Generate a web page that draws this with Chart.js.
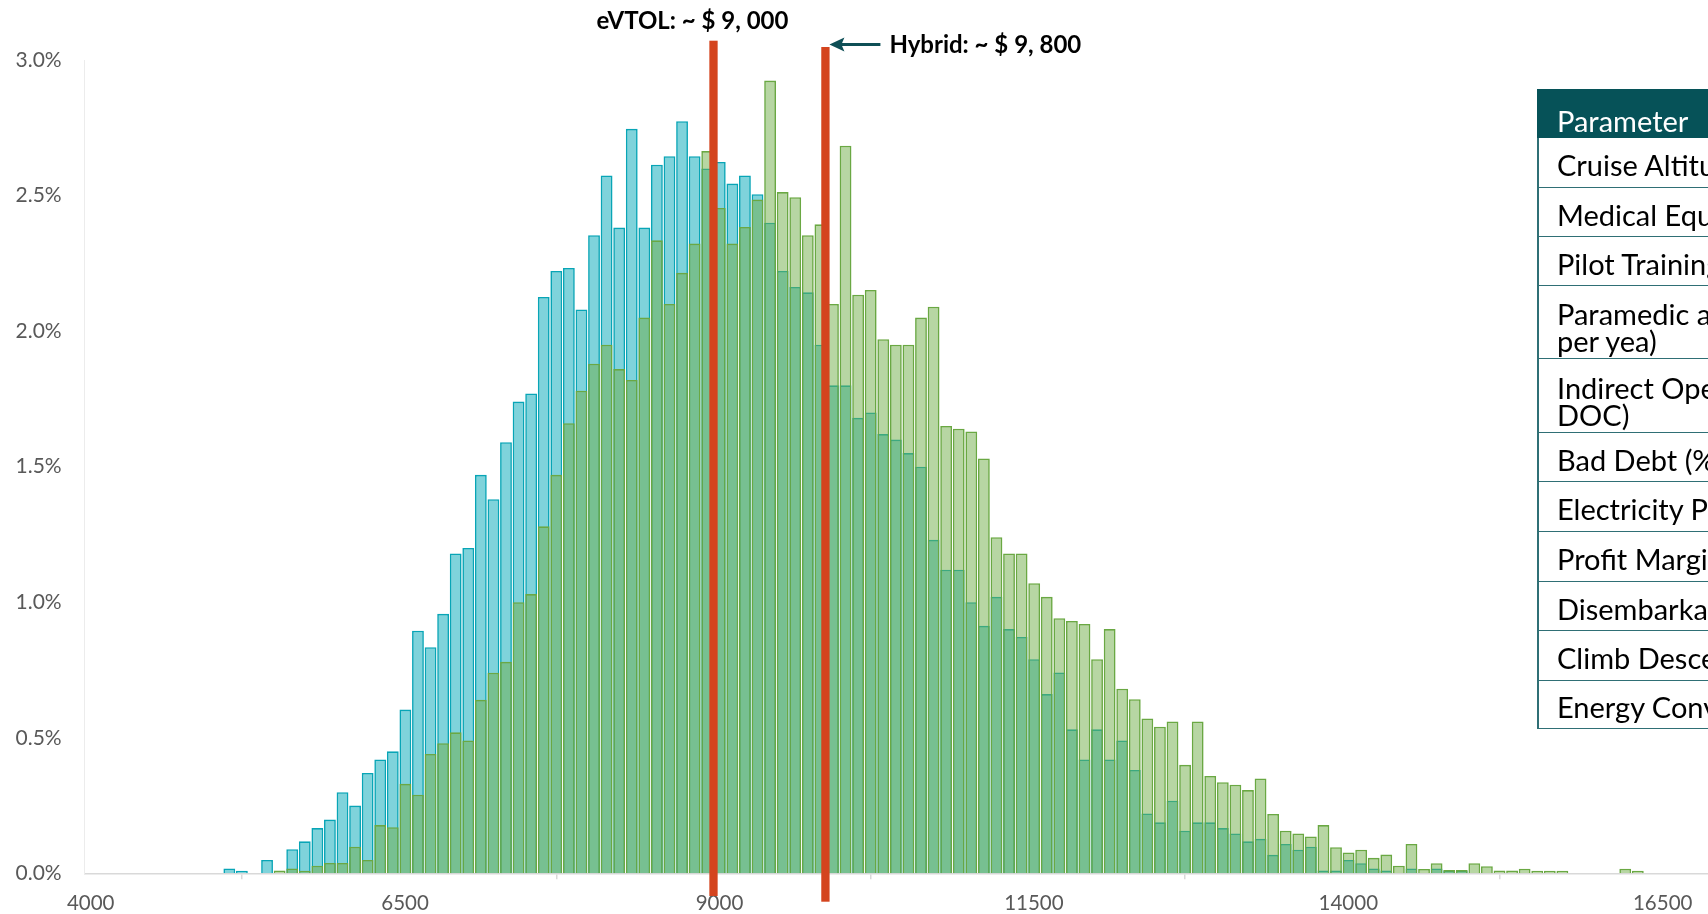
<!DOCTYPE html>
<html>
<head>
<meta charset="utf-8">
<script src="https://cdn.jsdelivr.net/npm/chart.js@4.4.1/dist/chart.umd.min.js"></script>
<style>
  html, body { margin: 0; padding: 0; background: #ffffff; overflow: hidden; width: 1708px; height: 914px; }
  #wrap { position: absolute; left: 0; top: 0; width: 1708px; height: 914px; }
  #tbl { position: absolute; left: 1537px; top: 89px; width: 560px; font-family: Lato, "Open Sans", sans-serif; font-size: 29px; color: #000; }
  #tbl .hdr { height: 49px; box-sizing: border-box; background: #065258; color: #fff; padding: 18px 0 0 20px; line-height: 27px; white-space: nowrap; }
  #tbl .row { box-sizing: border-box; border-left: 2px solid #2f6f75; border-bottom: 1.5px solid #2f6f75; padding-left: 18px; padding-top: 4px; display: flex; flex-direction: column; justify-content: center; line-height: 27px; white-space: nowrap; }
  #tbl .row.dbl { padding-top: 10px; }
</style>
</head>
<body>
<div id="wrap"><canvas id="c"></canvas></div>
<div id="tbl"></div>
<script>
// ---------- DATA ----------
const binCenters = [5150,5250,5350,5450,5550,5650,5750,5850,5950,6050,6150,6250,6350,6450,6550,6650,6750,6850,6950,7050,
  7150,7250,7350,7450,7550,7650,7750,7850,7950,8050,8150,8250,8350,8450,8550,8650,8750,8850,8950,9050,
  9150,9250,9350,9450,9550,9650,9750,9850,9950,10050,10150,10250,10350,10450,10550,10650,10750,10850,10950,11050,
  11150,11250,11350,11450,11550,11650,11750,11850,11950,12050,12150,12250,12350,12450,12550,12650,12750,12850,12950,13050,
  13150,13250,13350,13450,13550,13650,13750,13850,13950,14050,14150,14250,14350,14450,14550,14650,14750,14850,14950,15050,
  15150,15250,15350,15450,15550,15650,15750,15850,15950,16050,16150,16250,16350];

// eVTOL share of runs per bin (%)
const evtolPct = [0.018,0.009,0,0.049,0,0.089,0.118,0.167,0.198,0.299,0.250,0.370,0.420,0.450,0.604,0.895,0.834,0.957,1.18,1.20,
  1.47,1.38,1.59,1.74,1.77,2.126,2.222,2.233,2.08,2.354,2.574,2.382,2.746,2.382,2.614,2.645,2.774,2.645,2.60,2.624,
  2.544,2.574,2.505,2.40,2.222,2.163,2.143,1.95,1.80,1.80,1.68,1.70,1.62,1.60,1.55,1.50,1.23,1.12,1.12,1.00,
  0.913,1.02,0.901,0.872,0.790,0.661,0.741,0.531,0.420,0.531,0.420,0.490,0.381,0.221,0.188,0.268,0.157,0.188,0.188,0.167,
  0.147,0.118,0.127,0.068,0.108,0.087,0.098,0.010,0.010,0.049,0.037,0.018,0.010,0,0.018,0,0.018,0.010,0.010,0,
  0,0,0,0,0,0,0,0,0,0,0,0,0];

// Hybrid share of runs per bin (%)
const hybridPct = [0,0,0,0,0.010,0.018,0.009,0.028,0.038,0.038,0.098,0.049,0.178,0.170,0.330,0.290,0.440,0.480,0.52,0.49,
  0.64,0.74,0.78,1.00,1.03,1.28,1.47,1.66,1.78,1.88,1.95,1.86,1.82,2.05,2.335,2.10,2.215,2.323,2.664,2.454,
  2.323,2.384,2.485,2.924,2.513,2.494,2.354,2.394,2.10,2.684,2.134,2.152,1.97,1.95,1.95,2.05,2.09,1.65,1.64,1.63,
  1.53,1.24,1.18,1.18,1.07,1.02,0.941,0.931,0.920,0.790,0.901,0.681,0.642,0.571,0.541,0.560,0.400,0.560,0.359,0.336,
  0.327,0.307,0.350,0.219,0.157,0.147,0.136,0.178,0.096,0.077,0.087,0.057,0.069,0.028,0.108,0.016,0.037,0.012,0.012,0.037,
  0.026,0.010,0.010,0.017,0.009,0.009,0.009,0,0,0,0,0.017,0.009];

const xTickValues = [4000, 6500, 9000, 11500, 14000, 16500];
const markerValues = [9000, 9890];
const markerLabels = ['eVTOL: ~ $ 9, 000', 'Hybrid: ~ $ 9, 800'];

const tableHeader = 'Parameter';
const tableRows = [
  ['Cruise Altitude (ft)'],
  ['Medical Equipment Cost (USD)'],
  ['Pilot Training Cost (USD)'],
  ['Paramedic and Nurse Salary (USD', 'per yea)'],
  ['Indirect Operating Cost (% of', 'DOC)'],
  ['Bad Debt (% of Revenue)'],
  ['Electricity Price (USD/kWh)'],
  ['Profit Margin (%)'],
  ['Disembarkation Time (min)'],
  ['Climb Descent Speed (ft/min)'],
  ['Energy Conversion Efficiency']
];
const rowHeights = [50, 49, 49, 73, 74, 49, 50, 50, 49, 50, 48];

// ---------- TABLE ----------
const tbl = document.getElementById('tbl');
const hdr = document.createElement('div');
hdr.className = 'hdr';
hdr.textContent = tableHeader;
tbl.appendChild(hdr);
tableRows.forEach((lines, i) => {
  const r = document.createElement('div');
  r.className = lines.length > 1 ? 'row dbl' : 'row';
  r.style.height = rowHeights[i] + 'px';
  lines.forEach(t => { const s = document.createElement('div'); s.textContent = t; r.appendChild(s); });
  tbl.appendChild(r);
});

// ---------- CHART ----------
const toPts = arr => binCenters.map((x, i) => ({ x: x, y: arr[i] > 0 ? arr[i] : null }));

const markerPlugin = {
  id: 'markers',
  afterDatasetsDraw(chart) {
    const ctx = chart.ctx;
    const xs = chart.scales.x;
    const x0 = xs.getPixelForValue(markerValues[0]);
    const x1 = xs.getPixelForValue(markerValues[1]);
    ctx.save();
    ctx.fillStyle = '#d4441e';
    ctx.fillRect(x0 - 4.15, 40.7, 8.3, 896 - 40.7);
    ctx.fillRect(x1 - 4.15, 47, 8.3, 901.7 - 47);
    ctx.fillStyle = '#000';
    ctx.font = 'bold 24px Lato, sans-serif';
    ctx.textBaseline = 'middle';
    ctx.textAlign = 'center';
    ctx.fillText(markerLabels[0], x0 - 21, 21);
    ctx.textAlign = 'left';
    ctx.fillText(markerLabels[1], x1 + 64, 45);
    // arrow
    ctx.strokeStyle = '#0e4f56';
    ctx.fillStyle = '#0e4f56';
    ctx.lineWidth = 3;
    ctx.beginPath();
    ctx.moveTo(x1 + 55, 44.5);
    ctx.lineTo(x1 + 14, 44.5);
    ctx.stroke();
    ctx.beginPath();
    ctx.moveTo(x1 + 4, 44.5);
    ctx.lineTo(x1 + 19, 37.5);
    ctx.lineTo(x1 + 16, 44.5);
    ctx.lineTo(x1 + 19, 51.5);
    ctx.closePath();
    ctx.fill();
    ctx.restore();
  }
};

new Chart(document.getElementById('c'), {
  type: 'bar',
  data: {
    datasets: [
      { label: 'Hybrid', data: toPts(hybridPct), backgroundColor: 'rgba(112,173,71,0.5)', borderColor: '#6aa843', borderWidth: 1.6, grouped: false, order: 0, barPercentage: 0.94, categoryPercentage: 1.0 },
      { label: 'eVTOL', data: toPts(evtolPct), backgroundColor: 'rgba(0,168,184,0.5)', borderColor: '#08a5b6', borderWidth: 1.6, grouped: false, order: 1, barPercentage: 0.94, categoryPercentage: 1.0 }
    ]
  },
  options: {
    responsive: true,
    maintainAspectRatio: false,
    animation: false,
    layout: { padding: { top: 60, right: 0, bottom: 0, left: 0 } },
    plugins: { legend: { display: false }, tooltip: { enabled: false } },
    scales: {
      x: {
        type: 'linear',
        min: 4000,
        max: 16908,
        offset: false,
        afterBuildTicks: s => { s.ticks = xTickValues.map(v => ({ value: v })); },
        afterFit: s => { s.height = 40.7; },
        grid: { display: true, drawOnChartArea: false, drawTicks: true, tickLength: 6, color: '#d9d9d9', lineWidth: 1.5 },
        border: { display: true, color: '#d9d9d9', width: 1.5 },
        ticks: { font: { family: 'Lato', size: 20.5 }, color: '#595959', padding: 12, labelOffset: 6, maxRotation: 0, autoSkip: false, callback: v => String(v) }
      },
      y: {
        min: 0,
        max: 3,
        afterFit: s => { s.width = 84.7; },
        grid: { display: false, drawTicks: false },
        border: { display: true, color: '#ececec', width: 1 },
        ticks: { stepSize: 0.5, font: { family: 'Lato', size: 21 }, color: '#595959', padding: 23, callback: v => v.toFixed(1) + '%' }
      }
    }
  },
  plugins: [markerPlugin]
});
</script>
</body>
</html>
